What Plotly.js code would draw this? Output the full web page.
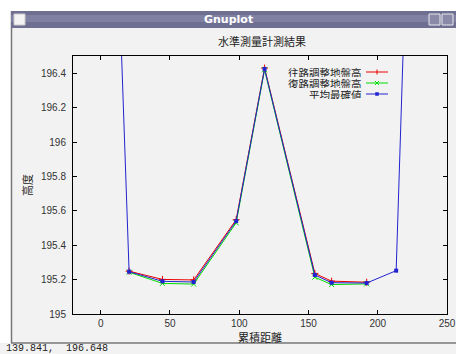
<!DOCTYPE html>
<html><head><meta charset="utf-8">
<script src="https://cdn.plot.ly/plotly-3.0.1.min.js"></script>
<style>html,body{margin:0;padding:0;background:#fff;}#chart{width:456px;height:354px;}</style>
</head><body><div id="chart"></div>
<script>
// Data
const distanceAvg = [0, 20.5, 44.6, 67.1, 97.8, 118.3, 154.6, 166.7, 192.0, 213.3, 232];
const heightAvg   = [200.0, 195.246, 195.19, 195.186, 195.54, 196.425, 195.227, 195.182, 195.18, 195.252, 200.0];
const distanceRun = [20.5, 44.6, 67.1, 97.8, 118.3, 154.6, 166.7, 192.0];
const heightOut   = [195.249, 195.201, 195.198, 195.548, 196.43, 195.236, 195.191, 195.185];
const heightBack  = [195.243, 195.178, 195.174, 195.53, 196.42, 195.214, 195.171, 195.175];
const seriesNames = ['往路調整地盤高', '復路調整地盤高', '平均最確値'];
const seriesColors = ['#ee0000', '#00dd00', '#2222d0'];

const L = 73, R = 447, T = 56, B = 314;
const u = px => (px - L) / (R - L);
const v = py => (B - py) / (B - T);

const traces = [
  {x: distanceRun, y: heightOut, name: seriesNames[0], mode: 'lines+markers',
   line: {color: seriesColors[0], width: 1}, marker: {symbol: 'cross-thin', size: 5, line: {color: seriesColors[0], width: 1}}},
  {x: distanceRun, y: heightBack, name: seriesNames[1], mode: 'lines+markers',
   line: {color: seriesColors[1], width: 1}, marker: {symbol: 'x-thin', size: 5, line: {color: seriesColors[1], width: 1}}},
  {x: distanceAvg, y: heightAvg, name: seriesNames[2], mode: 'lines+markers',
   line: {color: seriesColors[2], width: 1}, marker: {symbol: 'square', size: 4, color: seriesColors[2]}}
];

const shapes = [];
const annotations = [];
// window frame pieces
shapes.push({type:'rect', xref:'paper', yref:'paper', x0:u(0), x1:u(456), y0:v(11), y1:v(0), fillcolor:'#ffffff', line:{width:0}});
shapes.push({type:'rect', xref:'paper', yref:'paper', x0:u(0), x1:u(11), y0:v(343), y1:v(11), fillcolor:'#ffffff', line:{width:0}});
shapes.push({type:'line', xref:'paper', yref:'paper', x0:u(11.5), x1:u(11.5), y0:v(343), y1:v(11), line:{color:'#777777', width:1.5}});
shapes.push({type:'rect', xref:'paper', yref:'paper', x0:u(11), x1:u(456), y0:v(28), y1:v(11), fillcolor:'#6f6f92', line:{width:0}});
shapes.push({type:'rect', xref:'paper', yref:'paper', x0:u(11), x1:u(456), y0:v(22), y1:v(15), fillcolor:'#8080a3', line:{width:0}});
shapes.push({type:'rect', xref:'paper', yref:'paper', x0:u(14), x1:u(25), y0:v(25), y1:v(14), fillcolor:'#f4f4f4', line:{color:'#cccccc', width:1}});
shapes.push({type:'rect', xref:'paper', yref:'paper', x0:u(429), x1:u(440), y0:v(25), y1:v(14), fillcolor:'#8a8aa8', line:{color:'#e8e8ee', width:1}});
shapes.push({type:'rect', xref:'paper', yref:'paper', x0:u(442), x1:u(453), y0:v(25), y1:v(14), fillcolor:'#8a8aa8', line:{color:'#e8e8ee', width:1}});
shapes.push({type:'line', xref:'paper', yref:'paper', x0:u(11), x1:u(456), y0:v(343), y1:v(343), line:{color:'#777777', width:1.5}});
annotations.push({xref:'paper', yref:'paper', x:u(228), y:v(19.5), text:'<b>Gnuplot</b>', showarrow:false,
  font:{family:'DejaVu Sans', size:11, color:'#ffffff'}, xanchor:'center', yanchor:'middle'});
annotations.push({xref:'paper', yref:'paper', x:u(4), y:v(348.5), text:'139.841,  196.648', showarrow:false,
  font:{family:'Liberation Mono', size:10, color:'#222222'}, xanchor:'left', yanchor:'middle'});

// legend (text right, sample on right like gnuplot)
const rows = [72, 83, 94];
for (let i = 0; i < 3; i++) {
  const py = rows[i];
  annotations.push({xref:'paper', yref:'paper', x:u(364), y:v(py), text:seriesNames[i], showarrow:false, height: 10,
    font:{family:'Noto Sans CJK JP', size:10.5, color:'#222222'}, xanchor:'right', yanchor:'middle', valign:'middle'});
  shapes.push({type:'line', xref:'paper', yref:'paper', x0:u(366), x1:u(388), y0:v(py), y1:v(py), line:{color:seriesColors[i], width:1}});
}
// legend markers
shapes.push({type:'line', xref:'paper', yref:'paper', x0:u(377), x1:u(377), y0:v(69.5), y1:v(74.5), line:{color:seriesColors[0], width:1}});
shapes.push({type:'line', xref:'paper', yref:'paper', x0:u(375), x1:u(379), y0:v(81), y1:v(85), line:{color:seriesColors[1], width:1}});
shapes.push({type:'line', xref:'paper', yref:'paper', x0:u(375), x1:u(379), y0:v(85), y1:v(81), line:{color:seriesColors[1], width:1}});
shapes.push({type:'rect', xref:'paper', yref:'paper', x0:u(375.5), x1:u(378.5), y0:v(95.5), y1:v(92.5), fillcolor:seriesColors[2], line:{color:seriesColors[2], width:0.5}});

const tickFont = {family:'Liberation Sans', size:10, color:'#333333'};
const layout = {
  width: 456, height: 354,
  margin: {l: L, r: 456 - R, t: T, b: 354 - B, pad: 0},
  paper_bgcolor: '#f2f2f2', plot_bgcolor: '#f2f2f2',
  showlegend: false,
  title: {text: '水準測量計測結果', x: u(262) * (R - L) / 456 + L / 456, xanchor: 'center', y: 1 - 42 / 354, yanchor: 'middle',
    font: {family: 'Noto Sans CJK JP', size: 11, color: '#222222'}},
  xaxis: {range: [-20, 250], dtick: 50, tick0: 0, ticks: 'inside', ticklen: 4, tickcolor: '#000', mirror: 'ticks',
    showline: true, linecolor: '#000', linewidth: 1, showgrid: false, zeroline: false, tickfont: tickFont,
    title: {text: '累積距離', font: {family: 'Noto Sans CJK JP', size: 11, color: '#222222'}, standoff: 4}},
  yaxis: {range: [195, 196.5], dtick: 0.2, tick0: 195, ticks: 'inside', ticklen: 4, tickcolor: '#000', mirror: 'ticks',
    showline: true, linecolor: '#000', linewidth: 1, showgrid: false, zeroline: false, tickfont: tickFont, ticklabelstandoff: 4,
    title: {text: '高度', font: {family: 'Noto Sans CJK JP', size: 11, color: '#222222'}, standoff: 6}},
  shapes: shapes,
  annotations: annotations
};
Plotly.newPlot('chart', traces, layout, {displayModeBar: false, staticPlot: true});
</script></body></html>
